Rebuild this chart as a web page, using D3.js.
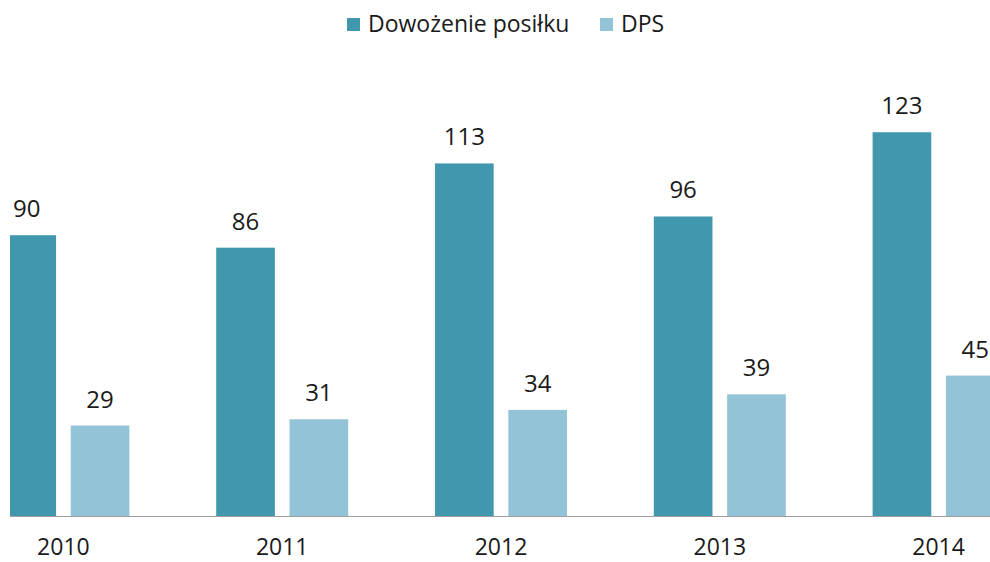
<!DOCTYPE html>
<html>
<head>
<meta charset="utf-8">
<script src="https://cdn.jsdelivr.net/npm/d3@7"></script>
<style>
html,body{margin:0;padding:0;background:#fff;}
svg{display:block;}
text{font-family:"Open Sans",sans-serif;fill:#1a1a1a;}
</style>
</head>
<body>
<svg id="chart" width="990" height="562"></svg>
<script>
const categories = ["2010","2011","2012","2013","2014"];
const seriesNames = ["Dowożenie posiłku","DPS"];
const dowozenie = [90, 86, 113, 96, 123];
const dps = [29, 31, 34, 39, 45];
const colors = ["#4197ad","#93c3d6"];

const data = categories.map((c,i)=>({cat:c, values:[dowozenie[i], dps[i]]}));

const svg = d3.select("#chart");
const W = 990, H = 562;
const baseline = 516;

const x0 = d3.scaleBand().domain(categories).range([-46, 1048]).paddingInner(0).paddingOuter(0);
const x1 = d3.scaleBand().domain([0,1]).range([0, 132]).paddingInner(0.2);
const y = d3.scaleLinear().domain([0, 140]).range([baseline, baseline - 140*3.12]);

svg.append("defs").append("clipPath").attr("id","plotclip")
  .append("rect").attr("x",10).attr("y",0).attr("width",W-10).attr("height",H);

const plot = svg.append("g").attr("clip-path","url(#plotclip)");

const groups = plot.selectAll("g.grp").data(data).join("g")
  .attr("class","grp")
  .attr("transform", d => `translate(${x0(d.cat) + x0.bandwidth()/2 - 66},0)`);

groups.selectAll("rect").data(d => d.values.map((v,k)=>({v,k}))).join("rect")
  .attr("x", d => x1(d.k))
  .attr("width", x1.bandwidth())
  .attr("y", d => y(d.v))
  .attr("height", d => baseline - y(d.v))
  .attr("fill", d => colors[d.k]);

groups.selectAll("text").data(d => d.values.map((v,k)=>({v,k}))).join("text")
  .attr("x", d => x1(d.k) + x1.bandwidth()/2)
  .attr("y", d => y(d.v) - 18)
  .attr("text-anchor","middle")
  .attr("font-size", 24)
  .text(d => d.v);

// axis
const xAxis = d3.axisBottom(x0).tickSize(0).tickPadding(23);
const ax = svg.append("g").attr("transform",`translate(0,${baseline})`).call(xAxis);
ax.select(".domain").remove();
ax.selectAll("text").attr("font-size",23).style("font-family","'Open Sans',sans-serif").attr("fill","#1a1a1a");
svg.append("line").attr("x1",10).attr("x2",W).attr("y1",baseline+0.5).attr("y2",baseline+0.5)
  .attr("stroke","#a0a0a0").attr("stroke-width",1.2);

// legend
const legendX = [347, 600];
const lg = svg.append("g");
seriesNames.forEach((n,i)=>{
  lg.append("rect").attr("x",legendX[i]).attr("y",18).attr("width",13).attr("height",13).attr("fill",colors[i]);
  lg.append("text").attr("x",legendX[i]+21).attr("y",32).attr("font-size",23).text(n);
});
</script>
</body>
</html>
